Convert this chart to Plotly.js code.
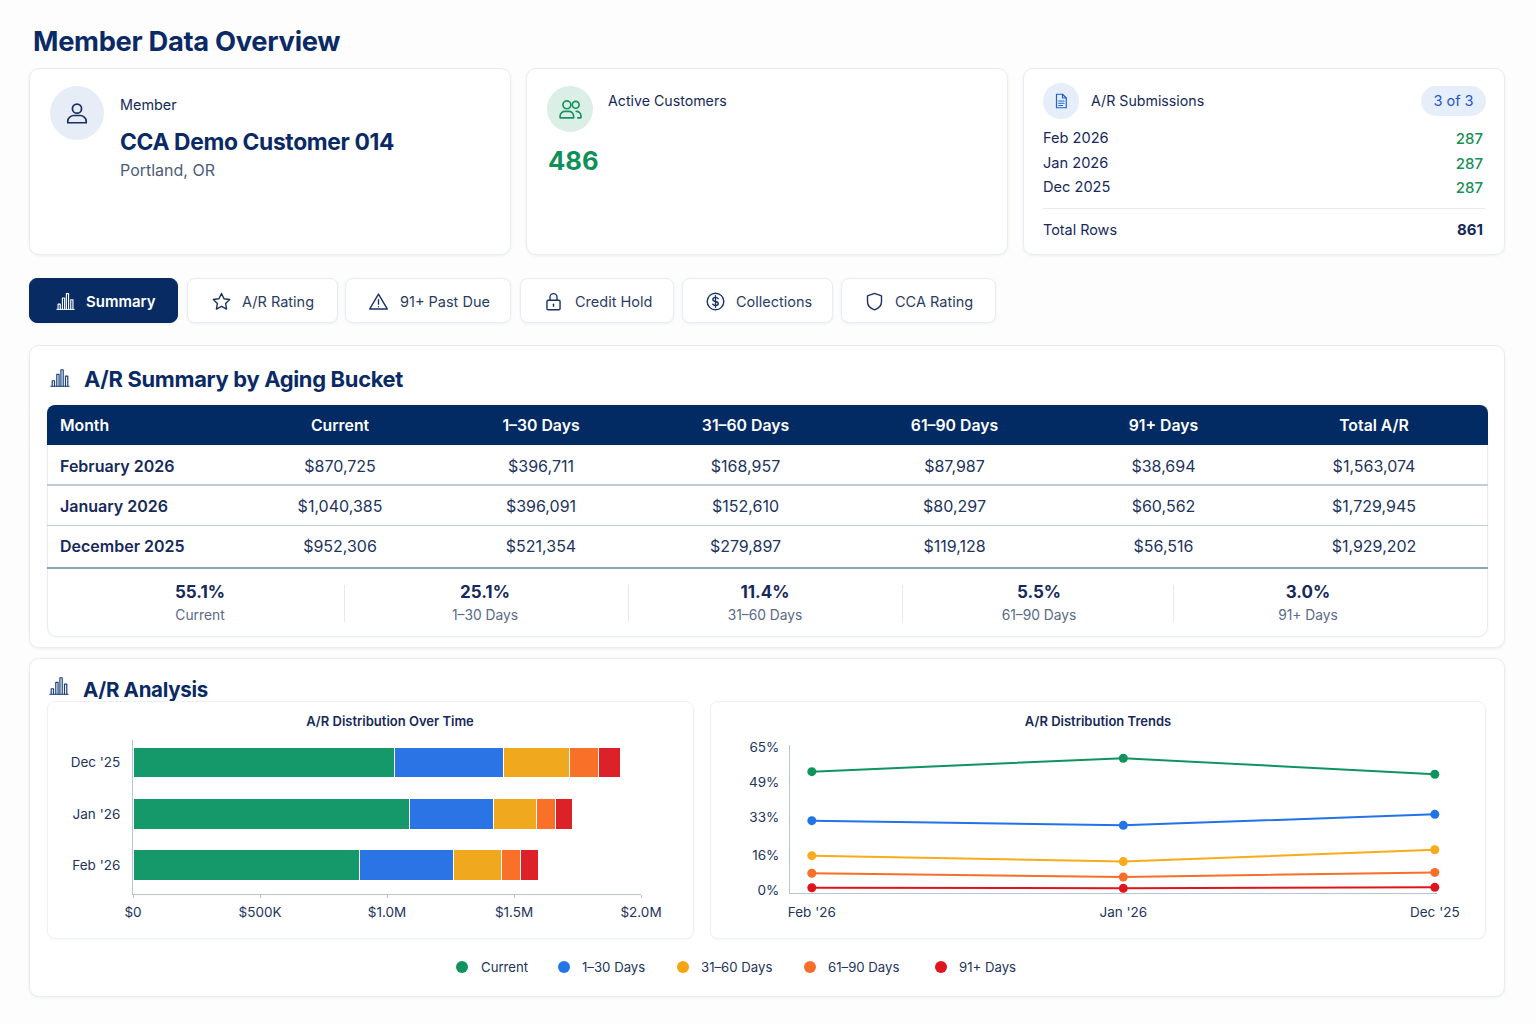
<!DOCTYPE html>
<html><head><meta charset="utf-8">
<script src="https://cdn.plot.ly/plotly-3.0.1.min.js"></script>
<style>
html,body{margin:0;padding:0;background:#fdfdfe;width:1536px;height:1024px;overflow:hidden;font-family:Inter,"Noto Sans",sans-serif;color:#16295a}
.box{position:absolute;box-sizing:border-box;background:#fff;border:1px solid #e9edf3;border-radius:10px;box-shadow:0 1px 3px rgba(30,50,90,.07)}
.t{position:absolute;white-space:nowrap;transform:translateY(-50%);line-height:1.2}
.c{transform:translate(-50%,-50%)}
.r{transform:translate(-100%,-50%)}
.plot{position:absolute}
svg.i{position:absolute;fill:none;stroke-width:1.6;stroke-linecap:round;stroke-linejoin:round}
</style></head><body>
<script>
// ---------- data ----------
const pageTitle = 'Member Data Overview';
const memberName = 'CCA Demo Customer 014';
const memberCity = 'Portland, OR';
const activeCustomers = '486';
const submissionMonths = ['Feb 2026', 'Jan 2026', 'Dec 2025'];
const submissionRows = ['287', '287', '287'];
const totalRows = '861';
const tabs = ['Summary', 'A/R Rating', '91+ Past Due', 'Credit Hold', 'Collections', 'CCA Rating'];
const tableHeader = ['Month', 'Current', '1–30 Days', '31–60 Days', '61–90 Days', '91+ Days', 'Total A/R'];
const tableMonths = ['February 2026', 'January 2026', 'December 2025'];
const tableCurrent = ['$870,725', '$1,040,385', '$952,306'];
const table1to30 = ['$396,711', '$396,091', '$521,354'];
const table31to60 = ['$168,957', '$152,610', '$279,897'];
const table61to90 = ['$87,987', '$80,297', '$119,128'];
const table91plus = ['$38,694', '$60,562', '$56,516'];
const tableTotal = ['$1,563,074', '$1,729,945', '$1,929,202'];
const buckets = ['Current', '1–30 Days', '31–60 Days', '61–90 Days', '91+ Days'];
const bucketShares = ['55.1%', '25.1%', '11.4%', '5.5%', '3.0%'];
const bucketColors = ['#16996a', '#2a74e6', '#f0a91e', '#f97129', '#dc2128'];
const lineColors = ['#0f9460', '#2272e8', '#f8ab1c', '#f76f28', '#e0141f'];
const legendDotColors = ['#0f9460', '#2575ea', '#f5a412', '#f96f2a', '#e0141f'];
// stacked bars, dollars
const barMonths = ["Feb '26", "Jan '26", "Dec '25"];
const barCurrent = [890000, 1087000, 1031000];
const bar1to30 = [370000, 333000, 429000];
const bar31to60 = [189000, 167000, 257000];
const bar61to90 = [75000, 75000, 114000];
const bar91plus = [74000, 68000, 90000];
// trend lines, percent
const trendMonths = ["Feb '26", "Jan '26", "Dec '25"];
const trendCurrent = [53.8, 59.9, 52.6];
const trend1to30 = [31.5, 29.4, 34.4];
const trend31to60 = [15.6, 12.9, 18.3];
const trend61to90 = [7.6, 5.9, 8.0];
const trend91plus = [1.05, 0.77, 1.2];
const trendTicks = [0, 16, 33, 49, 65];
const trendTickLabels = ['0%', '16%', '33%', '49%', '65%'];
const barTickValues = [0, 500000, 1000000, 1500000, 2000000];
const barTickLabels = ['$0', '$500K', '$1.0M', '$1.5M', '$2.0M'];

// ---------- page helpers ----------
const NAVY = '#0a2a66', INK = '#16295a', AXIS = '#b7c3d6';
function box(x0, y0, x1, y1, css) {
  const d = document.createElement('div'); d.className = 'box';
  d.style.cssText = `left:${x0}px;top:${y0}px;width:${x1-x0}px;height:${y1-y0}px;` + (css || '');
  document.body.appendChild(d); return d;
}
function put(text, x, y, css, cls) {
  const d = document.createElement('div'); d.className = 't ' + (cls || '');
  d.textContent = text; d.style.cssText = `left:${x}px;top:${y}px;` + (css || '');
  document.body.appendChild(d); return d;
}
function line(x0, y0, x1, y1, color) {
  const d = document.createElement('div');
  d.style.cssText = `position:absolute;left:${x0}px;top:${y0}px;width:${x1-x0}px;height:${y1-y0}px;background:${color}`;
  document.body.appendChild(d);
}
function dot(cx, cy, r, color) {
  const d = document.createElement('div');
  d.style.cssText = `position:absolute;left:${cx-r}px;top:${cy-r}px;width:${2*r}px;height:${2*r}px;border-radius:50%;background:${color}`;
  document.body.appendChild(d);
}
function icon(cx, cy, size, color, body) {
  const ns = 'http://www.w3.org/2000/svg';
  const s = document.createElementNS(ns, 'svg');
  s.setAttribute('class', 'i'); s.setAttribute('viewBox', '0 0 24 24');
  s.setAttribute('width', size); s.setAttribute('height', size);
  s.style.cssText = `left:${cx-size/2}px;top:${cy-size/2}px;stroke:${color}`;
  s.innerHTML = body; document.body.appendChild(s);
}
const ICON = {
  user: '<circle cx="12" cy="8" r="4.2"/><path d="M3.5 21v-1.5c0-3 3-5.2 5.5-5.2h6c2.5 0 5.500 2.200 5.500 5.200V21z"/>',
  users: '<circle cx="8.500" cy="7.500" r="3.800"/><circle cx="17" cy="7.500" r="3.300"/><path d="M2 20v-1.500c0-3 2.500-4.700 4.500-4.700h4c2 0 4.500 1.700 4.500 4.700V20z"/><path d="M17.500 13.800c2.500 0 4.500 1.700 4.500 4.200V20h-3"/>',
  doc: '<path d="M6 3h8l5 5v13H6z"/><path d="M14 3v5h5"/><path d="M9 12h7M9 15h7M9 18h5"/>',
  bars: '<path d="M2 21h20" stroke-width="1.100"/><path d="M3.500 21v-6h2.500v6M8.500 21V8h2.500v13M13 21V3h2.500v18M18 21v-11h2.500v11" stroke-width="1.300"/>',
  star: '<path d="M12 2.800l2.900 6 6.500.9-4.700 4.500 1.100 6.500-5.800-3.100-5.800 3.100 1.100-6.500L2.600 9.700l6.500-.9z"/>',
  warn: '<path d="M12 3.500L22 20.500H2z"/><path d="M12 10v5M12 17.800v.2"/>',
  lock: '<rect x="4.500" y="10.500" width="15" height="11" rx="1.500"/><path d="M8 10.500V7a4 4 0 0 1 8 0v3.500"/><path d="M12 15v2.500"/>',
  dollar: '<circle cx="12" cy="12" r="9.500"/><path d="M15 8.800c-.6-1-1.700-1.500-3-1.500-1.700 0-3 .9-3 2.300 0 3.200 6.200 1.600 6.200 4.800 0 1.400-1.400 2.300-3.200 2.300-1.400 0-2.600-.6-3.200-1.600M12 5.500v13"/>',
  shield: '<path d="M12 2.800l8 2.700v6.500c0 4.800-3.400 8-8 9.500-4.600-1.500-8-4.700-8-9.500V5.500z"/>'
};

// ---------- header cards ----------
put(pageTitle, 33, 42, `font-size:27.3px;font-weight:700;color:${NAVY};letter-spacing:-.3px`);
box(29, 68, 511, 255); box(526, 68, 1008, 255); box(1023, 68, 1505, 255);
dot(77, 113, 27, '#e6edf7'); icon(77, 113, 26, '#1a3166', ICON.user);
put('Member', 120, 105, `font-size:14.4px;color:${INK}`);
put(memberName, 120, 142, `font-size:22.8px;font-weight:700;color:${NAVY};letter-spacing:-.35px`);
put(memberCity, 120, 171, 'font-size:16px;color:#4c5c7a');
dot(570, 109, 23, '#dcefe6'); icon(570, 109, 25, '#15945f', ICON.users);
put('Active Customers', 608, 101, `font-size:14.2px;color:${INK}`);
put(activeCustomers, 548, 161, 'font-size:25.6px;font-weight:700;color:#0f9058');
dot(1061, 101, 18, '#e6eefa'); icon(1061, 101, 18, '#1f5fd6', ICON.doc);
put('A/R Submissions', 1091, 101, `font-size:14.2px;color:${INK}`);
box(1421, 86, 1486, 116, 'background:#e6eefa;border:none;border-radius:15px;box-shadow:none');
put('3 of 3', 1453.5, 101, 'font-size:14.5px;color:#1d56d1', 'c');
submissionMonths.forEach((m, i) => {
  const y = [139, 164, 188][i];
  put(m, 1043, y, `font-size:14.6px;color:${INK}`);
  put(submissionRows[i], 1483, y, 'font-size:15px;font-weight:500;color:#169058', 'r');
});
line(1043, 208, 1485, 209, '#e7ebf1');
put('Total Rows', 1043, 229.5, `font-size:14.4px;color:${INK}`);
put(totalRows, 1483, 229.5, `font-size:15px;font-weight:700;color:${INK}`, 'r');

// ---------- tabs ----------
const tabBoxes = [[29,178],[187,338],[345,511],[520,674],[682,833],[841,996]];
const tabIconX = [65, 221, 378, 553, 715, 874];
const tabLabelX = [86, 242, 400, 575, 736, 895];
const tabIcons = ['bars', 'star', 'warn', 'lock', 'dollar', 'shield'];
tabs.forEach((label, i) => {
  const on = i === 0;
  box(tabBoxes[i][0], 278, tabBoxes[i][1], 323, on ? 'background:#082b63;border-color:#082b63;border-radius:8px' : 'border-radius:8px');
  icon(tabIconX[i], 301, 21, on ? '#fff' : '#1a3166', ICON[tabIcons[i]]);
  put(label, tabLabelX[i], 301.5, on ? 'font-size:15px;font-weight:600;color:#fff' : 'font-size:14.5px;color:#2b3c63');
});

// ---------- A/R summary table ----------
box(29, 345, 1505, 648);
icon(60, 378, 22, '#1a3f7a', ICON.bars);
put('A/R Summary by Aging Bucket', 84, 379, `font-size:21.9px;font-weight:700;color:${NAVY};letter-spacing:-.3px`);
box(47, 405, 1488, 637, 'border-radius:10px;box-shadow:0 1px 2px rgba(30,50,90,.05)');
box(47, 405, 1488, 445, 'background:#022b63;border:none;border-radius:8px 8px 0 0;box-shadow:none');
line(47, 484, 1488, 486, '#bfcbdc');
line(47, 525, 1488, 526, '#bfcbdc');
line(47, 567, 1488, 569, '#8fa2bd');
const tableDiv = document.createElement('div');
tableDiv.className = 'plot'; tableDiv.style.cssText = 'left:52px;top:411px;width:1429px;height:163px';
document.body.appendChild(tableDiv);
Plotly.newPlot(tableDiv, [{
  type: 'table',
  columnwidth: [188, 200, 202, 207, 211, 207, 214],
  domain: {x: [0, 1], y: [0, 1]},
  header: {
    values: tableHeader, height: 41,
    align: ['left', 'center', 'center', 'center', 'center', 'center', 'center'],
    fill: {color: 'rgba(0,0,0,0)'}, line: {width: 0, color: 'rgba(0,0,0,0)'},
    font: {family: 'Inter', size: 15.8, color: '#ffffff', weight: 600}
  },
  cells: {
    values: [tableMonths, tableCurrent, table1to30, table31to60, table61to90, table91plus, tableTotal], height: 40,
    align: ['left', 'center', 'center', 'center', 'center', 'center', 'center'],
    fill: {color: 'rgba(0,0,0,0)'}, line: {width: 0, color: 'rgba(0,0,0,0)'},
    font: {family: 'Inter', size: 16, color: [INK, '#22345c', '#22345c', '#22345c', '#22345c', '#22345c', '#22345c'],
           weight: [600, 400, 400, 400, 400, 400, 400]}
  }
}], {margin: {l: 0, r: 0, t: 0, b: 0}, width: 1429, height: 163, paper_bgcolor: 'rgba(0,0,0,0)'}, {displayModeBar: false, staticPlot: true});

const statX = [200, 485, 765, 1039, 1308];
buckets.forEach((b, i) => {
  put(bucketShares[i], statX[i], 592, `font-size:17px;font-weight:700;color:${INK}`, 'c');
  put(b, statX[i], 615, 'font-size:13.8px;color:#5a6a87', 'c');
});
[344, 628, 902, 1173].forEach(x => line(x, 585, x + 1, 622, '#e4e9f0'));

// ---------- A/R analysis ----------
box(29, 658, 1505, 997);
icon(59, 686, 22, '#1a3f7a', ICON.bars);
put('A/R Analysis', 83, 689.5, `font-size:20.5px;font-weight:700;color:${NAVY};letter-spacing:-.3px`);
box(47, 701, 694, 939, 'border-radius:8px;border-color:#edf0f5;box-shadow:0 1px 2px rgba(30,50,90,.04)');
box(710, 701, 1486, 939, 'border-radius:8px;border-color:#edf0f5;box-shadow:0 1px 2px rgba(30,50,90,.04)');

const tickFont = {family: 'Inter', size: 13.5, color: '#22345c'};
const titleFont = {family: 'Inter', size: 13, color: INK, weight: 600};
const barDiv = document.createElement('div');
barDiv.className = 'plot'; barDiv.style.cssText = 'left:47px;top:701px;width:647px;height:238px';
document.body.appendChild(barDiv);
const barSeries = [barCurrent, bar1to30, bar31to60, bar61to90, bar91plus];
Plotly.newPlot(barDiv, barSeries.map((v, i) => ({
  type: 'bar', orientation: 'h', name: buckets[i], y: barMonths, x: v,
  marker: {color: bucketColors[i], line: {color: '#ffffff', width: 1}}
})), {
  width: 647, height: 238, barmode: 'stack', bargap: 0.4, showlegend: false,
  margin: {l: 86, r: 53, t: 39, b: 45},
  paper_bgcolor: 'rgba(0,0,0,0)', plot_bgcolor: 'rgba(0,0,0,0)',
  title: {text: 'A/R Distribution Over Time', x: 343 / 647, xanchor: 'center', y: 1 - 20 / 238, yanchor: 'middle', font: titleFont},
  xaxis: {range: [0, 2000000], tickvals: barTickValues, ticktext: barTickLabels, showgrid: false, zeroline: false,
          showline: true, linecolor: AXIS, linewidth: 1, ticks: 'outside', ticklen: 3, tickcolor: AXIS, ticklabelstandoff: 3, tickfont: tickFont},
  yaxis: {type: 'category', categoryorder: 'array', categoryarray: barMonths, range: [-0.566, 2.44], showgrid: false, zeroline: false,
          showline: true, linecolor: AXIS, linewidth: 1, ticks: '', ticklabelstandoff: 9, tickfont: tickFont}
}, {displayModeBar: false, staticPlot: true});

const lineDiv = document.createElement('div');
lineDiv.className = 'plot'; lineDiv.style.cssText = 'left:710px;top:701px;width:776px;height:238px';
document.body.appendChild(lineDiv);
const trendSeries = [trendCurrent, trend1to30, trend31to60, trend61to90, trend91plus];
Plotly.newPlot(lineDiv, trendSeries.map((v, i) => ({
  type: 'scatter', mode: 'lines+markers', name: buckets[i], x: trendMonths, y: v, cliponaxis: false,
  line: {color: lineColors[i], width: 2}, marker: {color: lineColors[i], size: 9}
})), {
  width: 776, height: 238, showlegend: false,
  margin: {l: 80, r: 49, t: 44, b: 46},
  paper_bgcolor: 'rgba(0,0,0,0)', plot_bgcolor: 'rgba(0,0,0,0)',
  title: {text: 'A/R Distribution Trends', x: 388 / 776, xanchor: 'center', y: 1 - 20 / 238, yanchor: 'middle', font: titleFont},
  xaxis: {type: 'category', range: [-0.07, 2.007], showgrid: false, zeroline: false, showline: true,
          linecolor: AXIS, linewidth: 1, ticks: '', ticklabelstandoff: 7, tickfont: tickFont},
  yaxis: {range: [-1.36, 65.9], tickmode: 'array', tickvals: trendTicks, ticktext: trendTickLabels, showgrid: false, zeroline: false, showline: true,
          linecolor: AXIS, linewidth: 1, ticks: '', ticklabelstandoff: 7, tickfont: tickFont}
}, {displayModeBar: false, staticPlot: true});

// ---------- shared legend ----------
const legendDotX = [462, 564, 683, 810, 941];
const legendTextX = [481, 582, 701, 828, 959];
buckets.forEach((b, i) => {
  dot(legendDotX[i], 967, 6, legendDotColors[i]);
  put(b, legendTextX[i], 967.5, 'font-size:13.2px;color:#22345c');
});
</script>
</body></html>
